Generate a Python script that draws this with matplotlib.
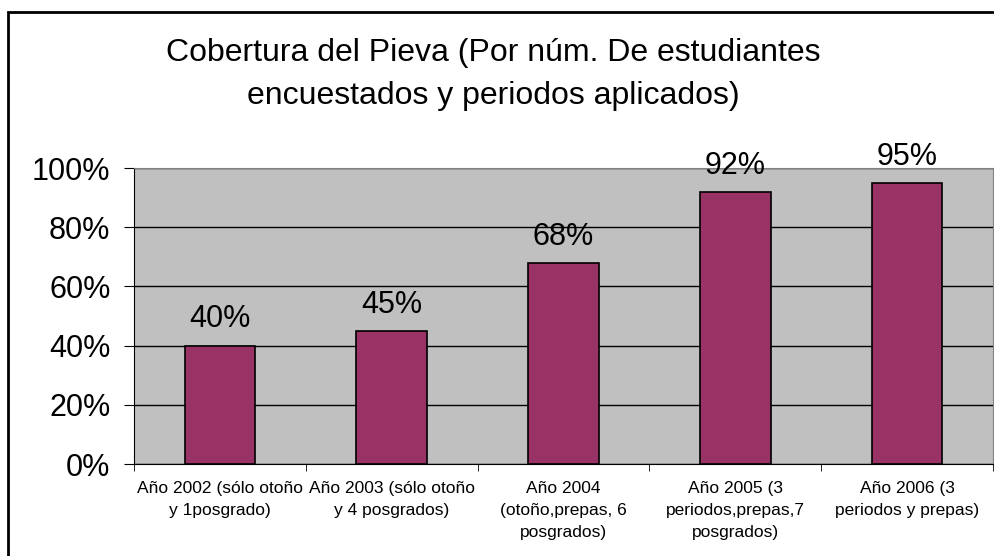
import matplotlib.pyplot as plt
from matplotlib.patches import Rectangle
from matplotlib.ticker import FuncFormatter, FixedLocator

plt.rcParams['font.family'] = ['Liberation Sans', 'DejaVu Sans']

categorias = ["Año 2002 (sólo otoño\ny 1posgrado)",
              "Año 2003 (sólo otoño\ny 4 posgrados)",
              "Año 2004\n(otoño,prepas, 6\nposgrados)",
              "Año 2005 (3\nperiodos,prepas,7\nposgrados)",
              "Año 2006 (3\nperiodos y prepas)"]
cobertura = [0.40, 0.45, 0.68, 0.92, 0.95]
etiquetas = ["40%", "45%", "68%", "92%", "95%"]

fig = plt.figure(figsize=(9.95, 5.56), dpi=100)
ax = fig.add_axes([134/995, 1 - 464/556, (993 - 134)/995, (464 - 168)/556])

x = range(len(categorias))
ax.set_facecolor('#C0C0C0')
bars = ax.bar(x, cobertura, width=0.41, color='#993366', edgecolor='black', linewidth=1.2, zorder=3)

# etiquetas de valor sobre cada barra
for b, t in zip(bars, etiquetas):
    ax.annotate(t, (b.get_x() + b.get_width()/2, b.get_height()), xytext=(0, 8),
                textcoords='offset points', ha='center', va='bottom', fontsize=22, zorder=4,
                annotation_clip=False)

ax.set_xlim(-0.5, len(categorias) - 0.5)
ax.set_ylim(0, 1)
ax.set_yticks([0, 0.2, 0.4, 0.6, 0.8, 1.0])
ax.yaxis.set_major_formatter(FuncFormatter(lambda v, p: f"{v*100:.0f}%"))
ax.grid(axis='y', color='black', linewidth=1, zorder=1)
ax.set_axisbelow(True)

ax.set_xticks(list(x))
ax.set_xticklabels(categorias, fontsize=12.5, linespacing=1.6)
ax.tick_params(axis='x', which='major', length=0, pad=12)
ax.xaxis.set_minor_locator(FixedLocator([i + 0.5 for i in range(-1, len(categorias))]))
ax.tick_params(axis='x', which='minor', length=5, color='black')
ax.tick_params(axis='y', labelsize=22, length=7, pad=10)

for s in ['top', 'right']:
    ax.spines[s].set_color('#808080')
ax.spines['left'].set_color('black')
ax.spines['bottom'].set_color('black')

fig.text(0.5 - 0.004, 1 - 53/556, "Cobertura del Pieva (Por núm. De estudiantes", ha='center', va='center', fontsize=23)
fig.text(0.5 - 0.004, 1 - 96/556, "encuestados y periodos aplicados)", ha='center', va='center', fontsize=23)

# borde del grafico (recortado a la derecha y abajo)
fig.patches.append(Rectangle((8/995, -0.1), 1.2, 1 - 12/556 + 0.1, transform=fig.transFigure,
                             fill=False, edgecolor='black', linewidth=2, clip_on=False))

fig.savefig('out.png', dpi=100)
